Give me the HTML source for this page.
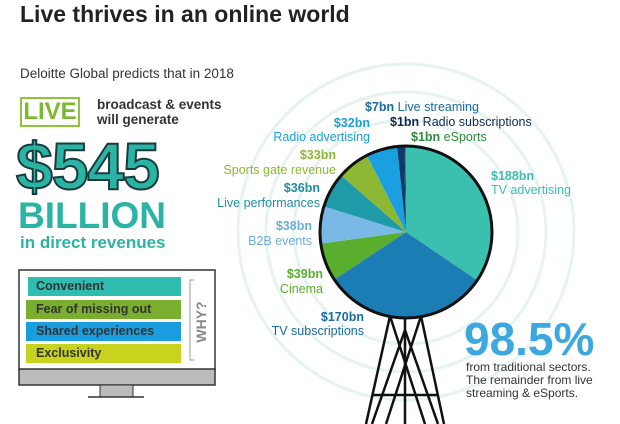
<!DOCTYPE html>
<html><head><meta charset="utf-8"><style>
body{margin:0;width:620px;height:424px;background:#fff;overflow:hidden;font-family:"Liberation Sans",sans-serif;position:relative}
.a{position:absolute;white-space:nowrap}
.r{text-align:right}
.b{font-weight:bold}
</style></head><body>
<svg class="a" style="left:0;top:0" width="620" height="424">
<g fill="none" stroke="#e6f4f1" stroke-width="3">
<circle cx="406" cy="232" r="112"/><circle cx="406" cy="232" r="140"/><circle cx="406" cy="232" r="168"/>
</g>
<g stroke="#111" stroke-width="2.5" fill="none">
<path d="M390 316 L366 424 M405 318 L405 424 M421 316 L444 424"/>
<path d="M390 316 L425 424 M421 316 L386 424 M405 330 L372 424 M405 330 L438 424"/>
<path d="M372 395 L438 395"/>
</g>
<g id="pie"></g>
<circle cx="406" cy="232" r="86" fill="none" stroke="#111" stroke-width="3"/>
<rect x="19" y="270" width="196" height="100" fill="#fff" stroke="#333" stroke-width="1.5"/>
<rect x="19" y="369" width="196" height="16" fill="#bbb" stroke="#333" stroke-width="1.5"/>
<rect x="100" y="385" width="33" height="12" fill="#bbb" stroke="#333" stroke-width="1"/>
<line x1="88" y1="397" x2="144" y2="397" stroke="#333" stroke-width="1.5"/>
<rect x="28" y="277" width="153" height="19" fill="#2ebdb0"/>
<rect x="26" y="300" width="155" height="19" fill="#7aae2f"/>
<rect x="26" y="322" width="155" height="19" fill="#1a9ee0"/>
<rect x="26" y="344" width="155" height="19" fill="#c8d31e"/>
<path d="M194 280 L190 280 L190 360 L194 360" fill="none" stroke="#999"/>
<text transform="translate(206,322) rotate(-90)" text-anchor="middle" font-family="Liberation Sans" font-weight="bold" font-size="14" fill="#888">WHY?</text>
</svg>
<script>
var d=[[188,"#3bbfae"],[170,"#1b7db3"],[39,"#5aae2e"],[38,"#7ab8e6"],[36,"#1e9aa8"],[33,"#8cb833"],[32,"#1aa0e0"],[7,"#0d3a6a"],[1,"#0a2a50"],[1,"#2e8b3a"]];
var tot=0;d.forEach(function(e){tot+=e[0]});
var cx=406,cy=232,r=86,a=0,s="";
d.forEach(function(e){var a2=a+e[0]/tot*360;var p=function(t){t=t*Math.PI/180;return[(cx+r*Math.sin(t)).toFixed(2),(cy-r*Math.cos(t)).toFixed(2)]};var p1=p(a),p2=p(a2);
s+='<path d="M'+cx+' '+cy+' L'+p1+' A'+r+' '+r+' 0 '+(a2-a>180?1:0)+' 1 '+p2+' Z" fill="'+e[1]+'"/>';a=a2;});
document.getElementById("pie").innerHTML=s;
</script>
<div class="a b" style="left:20px;top:1px;font-size:23px;color:#222">Live thrives in an online world</div>
<div class="a" style="left:20px;top:66px;font-size:13.5px;color:#333">Deloitte Global predicts that in 2018</div>
<div class="a b" style="left:20px;top:97px;width:56px;height:26px;border:2px solid #8cc43c;color:#7cb92f;font-size:24px;line-height:26px;text-align:center">LIVE</div>
<div class="a b" style="left:97px;top:97px;font-size:13.5px;line-height:15px;color:#333">broadcast &amp; events<br>will generate</div>
<div class="a b" style="left:16px;top:128px;font-size:66px;letter-spacing:-1px;color:#2bb3a3;-webkit-text-stroke:2px #1b3a40">$545</div>
<div class="a b" style="left:18px;top:195px;font-size:37px;color:#2bb3a3">BILLION</div>
<div class="a b" style="left:20px;top:233px;font-size:17px;color:#2bb3a3">in direct revenues</div>
<div class="a b" style="left:36px;top:279px;font-size:12.5px;color:#333">Convenient</div>
<div class="a b" style="left:36px;top:302px;font-size:12.5px;color:#333">Fear of missing out</div>
<div class="a b" style="left:36px;top:324px;font-size:12.5px;color:#333">Shared experiences</div>
<div class="a b" style="left:36px;top:346px;font-size:12.5px;color:#333">Exclusivity</div>
<div style="font-size:12.5px">
<div class="a" style="left:365px;top:100px;color:#1b6aa0"><b>$7bn</b> Live streaming</div>
<div class="a" style="left:390px;top:115px;color:#0d2a50"><b>$1bn</b> Radio subscriptions</div>
<div class="a" style="left:411px;top:130px;color:#2e8b3a"><b>$1bn</b> eSports</div>
<div class="a r" style="right:250px;top:116px;color:#1aa0e0;line-height:14px"><b>$32bn</b><br>Radio advertising</div>
<div class="a r" style="right:284px;top:148px;color:#8cb833;line-height:15px"><b>$33bn</b><br>Sports gate revenue</div>
<div class="a r" style="right:300px;top:181px;color:#1e8fa0;line-height:15px"><b>$36bn</b><br>Live performances</div>
<div class="a r" style="right:308px;top:219px;color:#6aaee0;line-height:15px"><b>$38bn</b><br>B2B events</div>
<div class="a r" style="right:297px;top:267px;color:#5aae2e;line-height:15px"><b>$39bn</b><br>Cinema</div>
<div class="a r" style="right:256px;top:310px;color:#1b6aa0;line-height:14px"><b>$170bn</b><br>TV subscriptions</div>
<div class="a" style="left:491px;top:169px;color:#3bbfae;line-height:14px"><b>$188bn</b><br>TV advertising</div>
</div>
<div class="a b" style="left:464px;top:312px;font-size:46px;color:#3da8e0">98.5%</div>
<div class="a" style="left:466px;top:361px;font-size:12px;line-height:13px;color:#333">from traditional sectors.<br>The remainder from live<br>streaming &amp; eSports.</div>
</body></html>
